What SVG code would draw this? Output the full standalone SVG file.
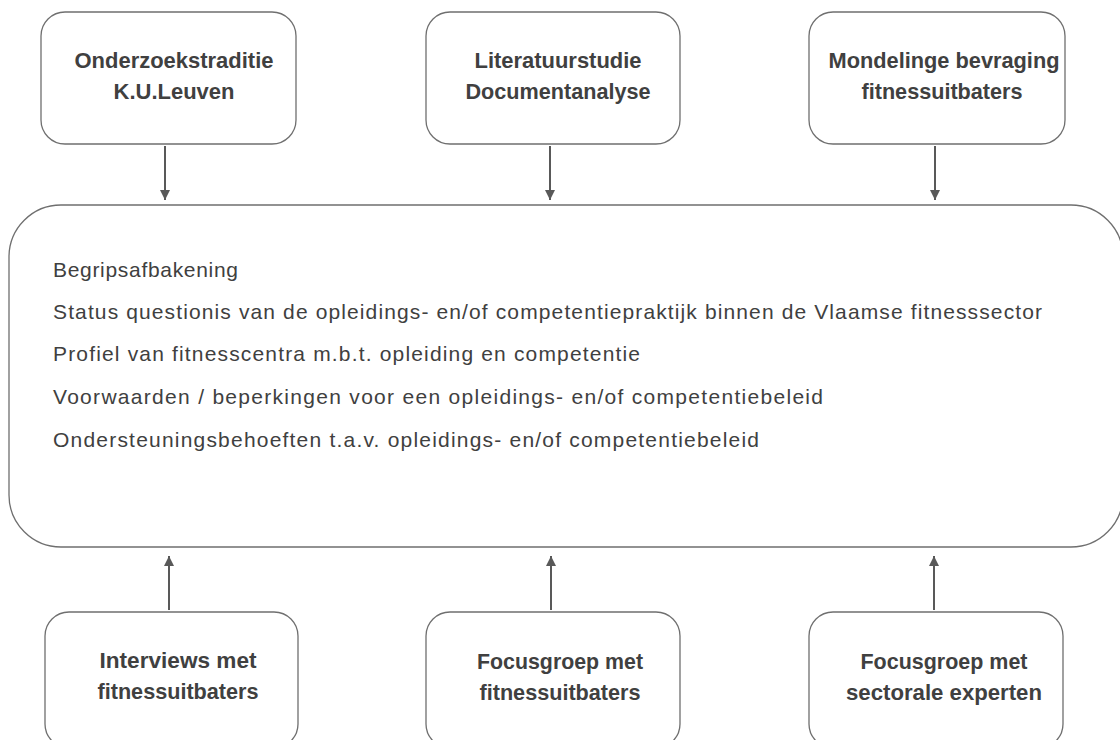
<svg xmlns="http://www.w3.org/2000/svg" width="1120" height="740" viewBox="0 0 1120 740">
<style>
.box{fill:#ffffff;stroke:#6f6f6f;stroke-width:1.3}
.title{font-family:"Liberation Sans",Arial,sans-serif;font-weight:bold;font-size:21.5px;fill:#404040;text-anchor:middle}
.body{font-family:"Liberation Sans",Arial,sans-serif;font-size:21px;fill:#404040}
.conn{stroke:#595959;stroke-width:2;fill:none}
</style>
<defs>
<marker id="arr" markerUnits="userSpaceOnUse" markerWidth="12" markerHeight="12" viewBox="0 0 12 12" refX="11" refY="6" orient="auto">
<path d="M1,1 L11,6 L1,11 Z" fill="#595959"/>
</marker>
</defs>
<rect width="1120" height="740" fill="#ffffff"/>
<g id="main">
<rect class="box" x="9" y="205" width="1114" height="342" rx="52"/>
<text class="body" x="53" y="277" textLength="185" lengthAdjust="spacing">Begripsafbakening</text>
<text class="body" x="53" y="319" textLength="989" lengthAdjust="spacing">Status questionis van de opleidings- en/of competentiepraktijk binnen de Vlaamse fitnesssector</text>
<text class="body" x="53" y="361" textLength="587" lengthAdjust="spacing">Profiel van fitnesscentra m.b.t. opleiding en competentie</text>
<text class="body" x="53" y="404" textLength="770" lengthAdjust="spacing">Voorwaarden / beperkingen voor een opleidings- en/of competentiebeleid</text>
<text class="body" x="53" y="447" textLength="706" lengthAdjust="spacing">Ondersteuningsbehoeften t.a.v. opleidings- en/of competentiebeleid</text>
</g>
<g id="top1">
<rect class="box" x="41" y="12" width="255" height="132" rx="24"/>
<text class="title" x="174" y="68" textLength="199" lengthAdjust="spacingAndGlyphs">Onderzoekstraditie</text>
<text class="title" x="174" y="99" textLength="121" lengthAdjust="spacingAndGlyphs">K.U.Leuven</text>
</g>
<g id="top2">
<rect class="box" x="426" y="12" width="254" height="132" rx="24"/>
<text class="title" x="558" y="68" textLength="167" lengthAdjust="spacingAndGlyphs">Literatuurstudie</text>
<text class="title" x="558" y="99" textLength="185" lengthAdjust="spacingAndGlyphs">Documentanalyse</text>
</g>
<g id="top3">
<rect class="box" x="809" y="12" width="256" height="132" rx="24"/>
<text class="title" x="944" y="68" textLength="231" lengthAdjust="spacingAndGlyphs">Mondelinge bevraging</text>
<text class="title" x="942" y="99" textLength="161" lengthAdjust="spacingAndGlyphs">fitnessuitbaters</text>
</g>
<g id="bottom1">
<rect class="box" x="45" y="612" width="253" height="136" rx="24"/>
<text class="title" x="178" y="668" textLength="157" lengthAdjust="spacingAndGlyphs">Interviews met</text>
<text class="title" x="178" y="699" textLength="161" lengthAdjust="spacingAndGlyphs">fitnessuitbaters</text>
</g>
<g id="bottom2">
<rect class="box" x="426" y="612" width="254" height="136" rx="24"/>
<text class="title" x="560" y="669" textLength="166" lengthAdjust="spacingAndGlyphs">Focusgroep met</text>
<text class="title" x="560" y="700" textLength="161" lengthAdjust="spacingAndGlyphs">fitnessuitbaters</text>
</g>
<g id="bottom3">
<rect class="box" x="809" y="612" width="254" height="136" rx="24"/>
<text class="title" x="944" y="669" textLength="167" lengthAdjust="spacingAndGlyphs">Focusgroep met</text>
<text class="title" x="944" y="700" textLength="196" lengthAdjust="spacingAndGlyphs">sectorale experten</text>
</g>
<g id="connectors">
<line class="conn" x1="165" y1="146" x2="165" y2="200" marker-end="url(#arr)"/>
<line class="conn" x1="550" y1="146" x2="550" y2="200" marker-end="url(#arr)"/>
<line class="conn" x1="935" y1="146" x2="935" y2="200" marker-end="url(#arr)"/>
<line class="conn" x1="169" y1="610" x2="169" y2="556" marker-end="url(#arr)"/>
<line class="conn" x1="551" y1="610" x2="551" y2="556" marker-end="url(#arr)"/>
<line class="conn" x1="934" y1="610" x2="934" y2="556" marker-end="url(#arr)"/>
</g>
</svg>
